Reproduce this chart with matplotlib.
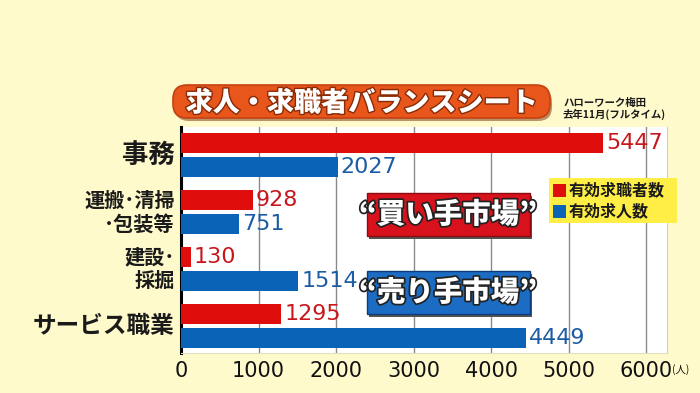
import matplotlib
matplotlib.use("Agg")
import matplotlib.pyplot as plt
from matplotlib.patches import FancyBboxPatch, Rectangle
import matplotlib.patheffects as pe
import numpy as np

plt.rcParams['font.family'] = ['Noto Sans CJK JP', 'DejaVu Sans']

categories = ["事務", "運搬･清掃\n･包装等", "建設･\n採掘", "サービス職業"]
cat_sizes = [19, 14.5, 14.5, 17]
seekers = [5447, 928, 130, 1295]     # 有効求職者数
openings = [2027, 751, 1514, 4449]   # 有効求人数
xticks = [0, 1000, 2000, 3000, 4000, 5000, 6000]
xtick_labels = ["0", "1000", "2000", "3000", "4000", "5000", "6000"]
title = "求人・求職者バランスシート"
source = "ハローワーク梅田\n去年11月(フルタイム)"
legend_labels = ["有効求職者数", "有効求人数"]
markets = ["“買い手市場”", "“売り手市場”"]

RED = "#E00D0D"
BLUE = "#0B63B7"
RED_TXT = "#C8161D"
BLUE_TXT = "#1B5CA3"
BG = "#FEFACB"
NUM = ['DejaVu Sans']

W, H = 700, 393
fig = plt.figure(figsize=(7, 3.93), dpi=100)
fig.patch.set_facecolor(BG)
ax = fig.add_axes([181/W, 1-353/H, (667-181)/W, (353-127)/H])
ax.set_facecolor("white")

y = np.arange(len(categories))
h = 0.35
off = 0.215
ax.barh(y - off, seekers, height=h, color=RED, zorder=3)
ax.barh(y + off, openings, height=h, color=BLUE, zorder=3)

for yi, v in zip(y, seekers):
    ax.text(v + 35, yi - off, f"{v}", color=RED_TXT, fontsize=16, va="center", ha="left",
            family=NUM, zorder=4)
for yi, v in zip(y, openings):
    ax.text(v + 35, yi + off, f"{v}", color=BLUE_TXT, fontsize=16, va="center", ha="left",
            family=NUM, zorder=4)

ax.set_xlim(0, 6270)
ax.set_ylim(3.47, -0.49)
ax.set_xticks(xticks)
ax.set_xticklabels(xtick_labels, fontsize=15, color="#111111", family=NUM)
ax.tick_params(axis="x", length=0, pad=6)
ax.set_yticks(y)
ax.set_yticklabels([])
ax.tick_params(axis="y", length=0)
for yi, lab, s in zip(y, categories, cat_sizes):
    ax.text(-0.013, yi, lab, transform=ax.get_yaxis_transform(), ha="right", va="center",
            fontsize=s, fontweight="bold", color="#1a1a1a", linespacing=1.15)

ax.grid(axis="x", color="#8a8a8a", linewidth=1.0, zorder=1)
ax.spines["top"].set_visible(False)
ax.spines["right"].set_color("#cfcfcf")
ax.spines["bottom"].set_color("#e0e0c0")
ax.spines["left"].set_color("black")
ax.spines["left"].set_linewidth(2.2)

# overlay axes in pixel coordinates for annotations
ov = fig.add_axes([0, 0, 1, 1], facecolor="none")
ov.set_xlim(0, W)
ov.set_ylim(H, 0)
ov.axis("off")

# (人) unit
ov.text(672, 370, "(人)", fontsize=7.5, ha="left", va="center", color="#111111")

# Title box
ov.add_patch(FancyBboxPatch((175, 88), 552-175, 121-88,
                            boxstyle="round,pad=0,rounding_size=14",
                            facecolor="#7a2a08", edgecolor="none", alpha=0.5))
ov.add_patch(FancyBboxPatch((173, 85), 552-175, 121-88,
                            boxstyle="round,pad=0,rounding_size=14",
                            facecolor="#E8561C", edgecolor="#C4420E", linewidth=1.2))
ov.text(362, 103, title, fontsize=19.5, fontweight="black", color="white",
        ha="center", va="center",
        path_effects=[pe.withStroke(linewidth=2, foreground="#8a2a05")])

ov.text(563, 109, source, fontsize=7.5, fontweight="bold", ha="left", va="center",
        color="#1a1a1a", linespacing=1.1)

# Legend box
ov.add_patch(Rectangle((549, 178), 677-549, 223-178, facecolor="#FFEE45", edgecolor="none"))
for i, (lab, c) in enumerate(zip(legend_labels, [RED, BLUE])):
    yy = 190 + i * 21
    ov.add_patch(Rectangle((553, yy - 6.5), 13, 13, facecolor=c, edgecolor="none"))
    ov.text(569, yy, lab, fontsize=11.5, fontweight="bold", ha="left", va="center",
            color="#1a1a1a")

# Market boxes
for (y0, y1, col, edge, txt) in [(193, 236, "#D8121C", "#8c0a10", markets[0]),
                                 (271, 314, "#1C6CC4", "#0c3d7a", markets[1])]:
    ov.add_patch(Rectangle((369, y0 + 3), 530 - 367, y1 - y0, facecolor="#555555", edgecolor="none"))
    ov.add_patch(Rectangle((367, y0), 530 - 367, y1 - y0, facecolor=col, edgecolor=edge, linewidth=1))
    ov.text(448, (y0 + y1) / 2, txt, fontsize=20.5, fontweight="black", color="white",
            ha="center", va="center",
            path_effects=[pe.withStroke(linewidth=2.5, foreground="#222222")])

fig.savefig("out.png", dpi=100, facecolor=BG)
